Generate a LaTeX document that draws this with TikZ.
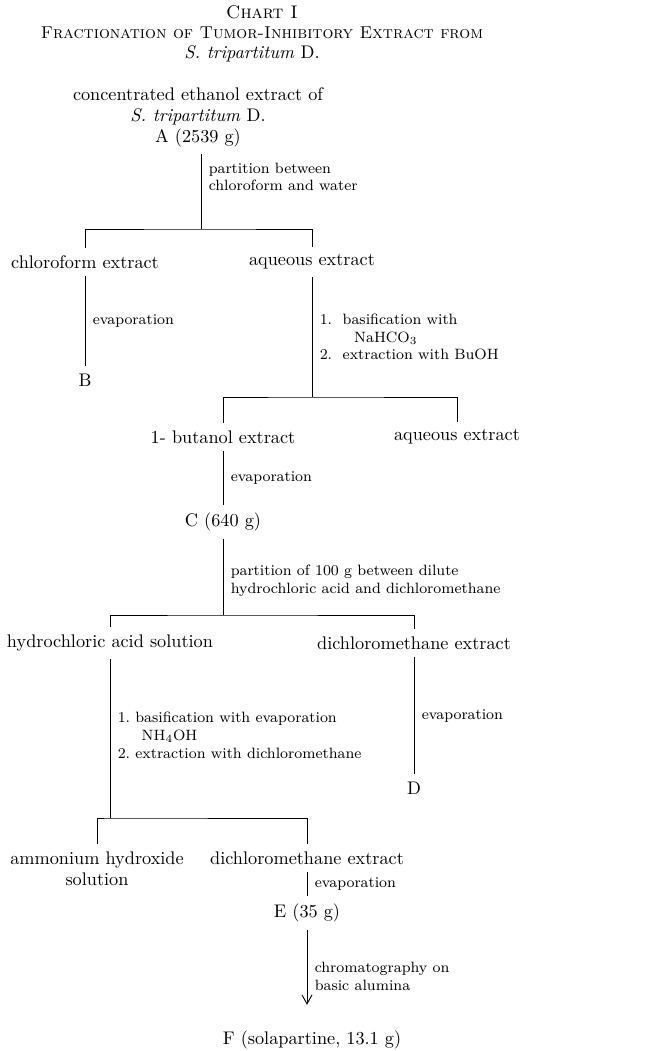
\documentclass[tikz,border=0pt]{standalone}
\usepackage{tikz}
\usetikzlibrary{arrows.meta}
\begin{document}
\begin{tikzpicture}[x=0.548pt, y=-0.548pt, line width=0.5pt, >={Straight Barb[length=5pt,width=5.5pt]},
  every node/.style={font=\fontsize{10}{11.5}\selectfont, align=center, inner sep=4pt},
  note/.style={font=\fontsize{8.2}{9.6}\selectfont, align=left, anchor=west, inner sep=2pt, xshift=2pt}]
\useasboundingbox (0,0) rectangle (650,1051);
% Schema de fractionnement
\node (chart) at (262,12) {\textsc{Chart I}};
\node[font=\fontsize{9.4}{11}\selectfont] (titre) at (262,33) {\textsc{Fractionation of Tumor-Inhibitory Extract from}};
\node (espece) at (252,54) {\textit{S. tripartitum} D.};
\node (A) at (198,117) {concentrated ethanol extract of\\\textit{S. tripartitum} D.\\A (2539 g)};
\coordinate (s1) at (201,229);
\node (chl) at (85,262) {chloroform extract};
\node (aq1) at (312,262) {aqueous extract};
\node (B) at (85,380) {B};
\coordinate (s2) at (312,397);
\node (but) at (223,437) {1- butanol extract};
\node (aq2) at (457,437) {aqueous extract};
\node (C) at (223,522) {C (640 g)};
\coordinate (s3) at (223,615);
\node (hcl) at (110,643) {hydrochloric acid solution};
\node (dcm1) at (414,643) {dichloromethane extract};
\node (D) at (414,788) {D};
\coordinate (s4) at (110,818);
\node (amm) at (97,869) {ammonium hydroxide\\solution};
\node (dcm2) at (307,858) {dichloromethane extract};
\node (E) at (307,913) {E (35 g)};
\node (F) at (312,1040) {F (solapartine, 13.1 g)};
\draw (A.south -| s1) -- node[note, pos=.3] {partition between\\chloroform and water} (s1);
\draw (chl) |- (s1) -| (aq1);
\draw (chl) -- node[note] {evaporation} (B);
\draw (aq1) -- node[note, pos=.5] {1.~~basification with\\\hspace*{2.3em}NaHCO$_3$\\2.~~extraction with BuOH} (s2);
\draw (but) |- (s2) -| (aq2);
\draw (but) -- node[note] {evaporation} (C);
\draw (C) -- node[note, pos=.55] {partition of 100 g between dilute\\hydrochloric acid and dichloromethane} (s3);
\draw (hcl) |- (s3) -| (dcm1);
\draw (hcl) -- node[note, pos=.48] {1.~basification with evaporation\\\hspace*{1.6em}NH$_4$OH\\2.~extraction with dichloromethane} (s4);
\draw (dcm1) -- node[note] {evaporation} (D);
\draw (amm) |- (s4) -| (dcm2);
\draw (dcm2) -- node[note] {evaporation} (E);
\draw[->, shorten >=10pt] (E) -- node[note] {chromatography on\\basic alumina} (E |- F.north);
\end{tikzpicture}
\end{document}
